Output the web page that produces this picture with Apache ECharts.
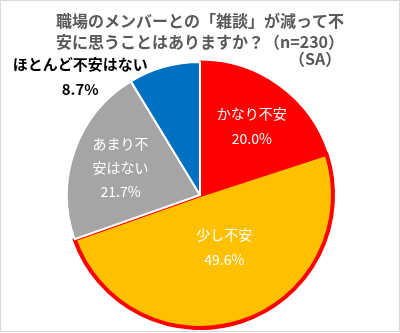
<!DOCTYPE html>
<html>
<head>
<meta charset="utf-8">
<script src="https://cdn.jsdelivr.net/npm/echarts@6/dist/echarts.min.js"></script>
<style>
html,body{margin:0;padding:0;background:#fff;}
#frame{position:absolute;left:0;top:0;width:398px;height:330px;border:1px solid #d9d9d9;}
#chart{width:400px;height:333px;position:absolute;left:0;top:0;}
</style>
</head>
<body>
<div id="frame"></div>
<div id="chart"></div>
<script>
const titleLines = ['職場のメンバーとの「雑談」が減って不', '安に思うことはありますか？（n=230）'];
const titleSub = '（SA）';
const categories = ['かなり不安', '少し不安', 'あまり不安はない', 'ほとんど不安はない'];
const values = [20.0, 49.6, 21.7, 8.7];
const colors = ['#FF0000', '#FFC000', '#A5A5A5', '#0070C0'];

const FONT = '"Noto Sans CJK JP", "Noto Sans", sans-serif';
const borderColors = ['#FF0000', '#FF0000', '#FFFFFF', '#FFFFFF'];
const borderWidths = [3, 4, 2, 2];
const labelShift = [[11, -13], [2, -14], [-14, -4], [-101, -51]];

const chart = echarts.init(document.getElementById('chart'), null, {renderer: 'canvas'});
const data = categories.map((c, i) => ({
  name: c,
  value: values[i],
  itemStyle: {color: colors[i], borderColor: borderColors[i], borderWidth: borderWidths[i]},
  label: i === 3 ? {color: '#000', fontWeight: 'bold', fontSize: 15} :
         i === 2 ? {width: 58, overflow: 'break', lineHeight: 24} : {}
}));

chart.setOption({
  animation: false,
  title: [
    {text: titleLines.join('\n'), left: 'center', top: 5,
     textStyle: {fontFamily: FONT, fontSize: 16, fontWeight: 'bold', color: '#595959', lineHeight: 21}},
    {text: titleSub, left: 284, top: 43,
     textStyle: {fontFamily: FONT, fontSize: 16, fontWeight: 'bold', color: '#595959', lineHeight: 21}}
  ],
  series: [{
    type: 'pie',
    center: [200, 195],
    radius: 133,
    startAngle: 90,
    clockwise: true,
    data: data,
    label: {
      position: 'inside',
      color: '#fff',
      fontFamily: FONT,
      fontSize: 14,
      lineHeight: 25,
      align: 'center',
      formatter: p => p.name + '\n' + p.value.toFixed(1) + '%'
    },
    labelLine: {show: false},
    labelLayout: p => ({dx: labelShift[p.dataIndex][0], dy: labelShift[p.dataIndex][1]}),
    emphasis: {disabled: true}
  }]
});
</script>
</body>
</html>
